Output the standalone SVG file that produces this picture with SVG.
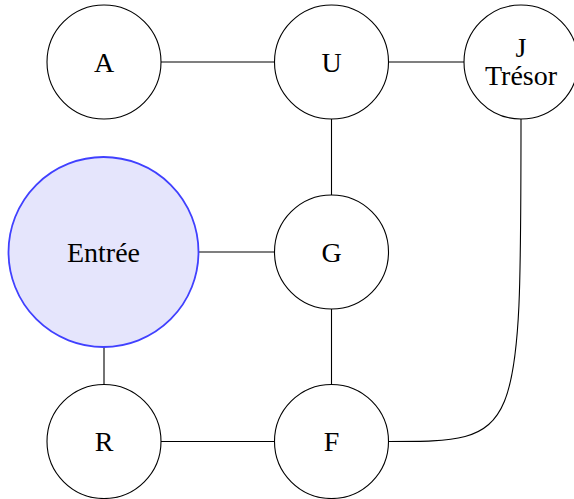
<svg xmlns="http://www.w3.org/2000/svg" width="574" height="499" viewBox="0 0 574 499">
<style>
.n{fill:#fff;stroke:#000;stroke-width:1.1}
.e{fill:#e5e5fc;stroke:#4040ff;stroke-width:1.8}
.t{font-family:"Liberation Serif","DejaVu Serif",serif;font-size:28px;fill:#000;text-anchor:middle}
.c{fill:none;stroke:#000;stroke-width:1.1}
</style>
<rect width="574" height="499" fill="#fff"/>
<g id="connectors" class="c">
<line x1="161" y1="62" x2="274.5" y2="62"/>
<line x1="388.5" y1="62" x2="464" y2="62"/>
<line x1="331.5" y1="119" x2="331.5" y2="195.5"/>
<line x1="198.5" y1="252" x2="274.5" y2="252"/>
<line x1="331.5" y1="309" x2="331.5" y2="385"/>
<line x1="104" y1="347" x2="104" y2="385"/>
<line x1="161" y1="441.5" x2="274.5" y2="441.5"/>
<path d="M388.5,441.5 C521,441.5 521,441.5 521,119"/>
</g>
<g id="A"><circle class="n" cx="104" cy="62" r="57"/><text class="t" x="104" y="71.5">A</text></g>
<g id="U"><circle class="n" cx="331.5" cy="62" r="57"/><text class="t" x="331.5" y="71.5">U</text></g>
<g id="J"><circle class="n" cx="521" cy="62" r="57"/><text class="t" x="521" y="56.5">J</text><text class="t" x="521" y="85">Trésor</text></g>
<g id="Entree"><circle class="e" cx="103.5" cy="252" r="95"/><text class="t" x="103.5" y="262">Entrée</text></g>
<g id="G"><circle class="n" cx="331.5" cy="252" r="57"/><text class="t" x="331.5" y="261.5">G</text></g>
<g id="R"><circle class="n" cx="104" cy="441.5" r="57"/><text class="t" x="104" y="451">R</text></g>
<g id="F"><circle class="n" cx="331.5" cy="441.5" r="57"/><text class="t" x="331.5" y="451">F</text></g>
</svg>
